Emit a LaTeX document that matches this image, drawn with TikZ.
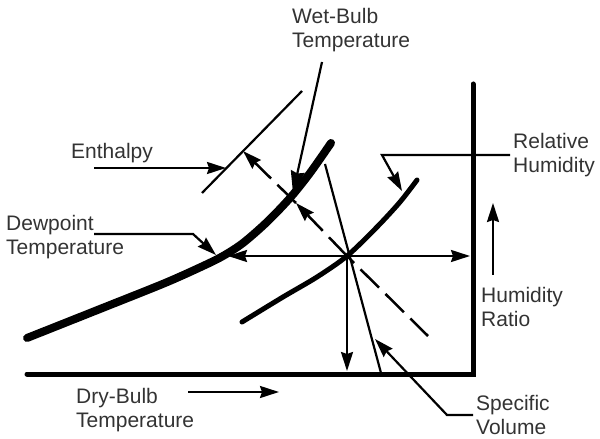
\documentclass[tikz,border=0pt]{standalone}
\usepackage{fontspec}
\setmainfont{Liberation Sans}
\usetikzlibrary{arrows.meta}
\definecolor{txtgray}{HTML}{333333}
\begin{document}
\begin{tikzpicture}[x=1bp,y=-1bp,
  lbl/.style={anchor=north west, inner sep=0pt, align=left, text=txtgray,
              font=\fontsize{21bp}{24.5bp}\selectfont},
  axisln/.style={line width=5bp, line cap=round, line join=miter},
  satln/.style={line width=8bp, line cap=round},
  rhln/.style={line width=5bp, line cap=round},
  thinln/.style={line width=2.2bp},
  dashln/.style={line width=2.5bp, dash pattern=on 26bp off 9bp},
  tip/.style={-{Stealth[length=19bp,width=12bp,inset=2bp]}},
  bigtip/.style={-{Stealth[length=22bp,width=14bp,inset=2bp]}}]
\useasboundingbox (0,0) rectangle (600,439);

% key points
\coordinate (P) at (347,256);
\coordinate (xa) at (27,374);
\coordinate (O) at (473,374);
\coordinate (ya) at (473,84);

% axes
\draw[axisln] (xa) -- (O) -- (ya);

% saturation curve
\draw[satln] plot[smooth, tension=0.5] coordinates {(27,338) (100,309) (165,283) (203,266) (223,256) (243,243) (267,222) (290,198) (310,173) (331,143)};

% relative humidity curve
\draw[rhln] plot[smooth, tension=0.5] coordinates {(242,322) (283,297) (317,277) (347,256) (377,227) (400,202) (417,180)};

% enthalpy line
\coordinate (en1) at (202,193);
\coordinate (en2) at (302,91);
\draw[thinln] (en1) -- (en2);

% wet-bulb / enthalpy dashed line
\coordinate (wbp) at (296,203);
\coordinate (hp) at (243,151);
\coordinate (dashend) at (428,336);
\draw[dashln, tip] (P) -- (wbp);
\draw[dashln, tip] (wbp) -- (hp);
\draw[dashln, dash phase=16bp] (P) -- (dashend);

% specific volume line
\coordinate (svt) at (325,164);
\coordinate (svb) at (381,373);
\draw[thinln] (svt) -- (svb);

% dry-bulb, dewpoint and humidity ratio lines from state point
\coordinate (dew) at (228,256);
\coordinate (hr) at (470,256);
\coordinate (db) at (347,371);
\draw[thinln, tip] (P) -- (dew);
\draw[thinln, tip] (P) -- (hr);
\draw[thinln, tip] (P) -- (db);

% labels
\node[lbl] (wb) at (292,8) {Wet-Bulb\\Temperature};
\node[lbl] (en) at (71,143) {Enthalpy};
\node[lbl] (dp) at (6,215) {Dewpoint\\Temperature};
\node[lbl] (rh) at (513,133) {Relative\\Humidity};
\node[lbl] (hrl) at (481,287) {Humidity\\Ratio};
\node[lbl] (dbl) at (76,388) {Dry-Bulb\\Temperature};
\node[lbl] (sv) at (476,395) {Specific\\Volume};

% label leaders
\coordinate (wbs) at (322,62);
\coordinate (wbt) at (293,193);
\draw[thinln, bigtip] (wbs) -- (wbt);

\coordinate (ens) at (94,168);
\coordinate (ent) at (226,168);
\draw[thinln, tip] (ens) -- (ent);

\coordinate (dps) at (94,234);
\coordinate (dpk) at (193,234);
\coordinate (dpt) at (216,255);
\draw[thinln, tip] (dps) -- (dpk) -- (dpt);

\coordinate (rhs) at (510,155);
\coordinate (rhk) at (382,155);
\coordinate (rht) at (402,191);
\draw[thinln, tip] (rhs) -- (rhk) -- (rht);

\coordinate (hrs) at (493,275);
\coordinate (hrt) at (493,203);
\draw[thinln, tip] (hrs) -- (hrt);

\coordinate (dbs) at (188,392);
\coordinate (dbt) at (279,392);
\draw[thinln, tip] (dbs) -- (dbt);

\coordinate (svs) at (473,415);
\coordinate (svk) at (447,415);
\coordinate (svtp) at (375,339);
\draw[thinln, tip] (svs) -- (svk) -- (svtp);
\end{tikzpicture}
\end{document}
